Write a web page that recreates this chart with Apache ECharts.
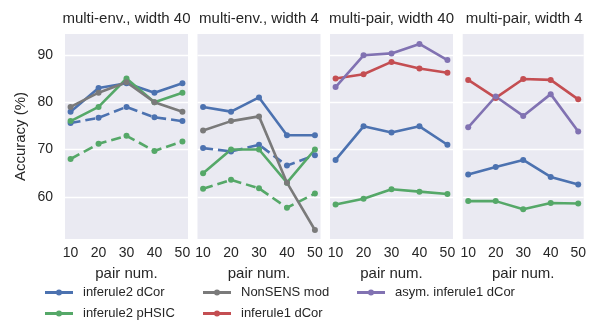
<!DOCTYPE html>
<html>
<head>
<meta charset="utf-8">
<script src="https://cdn.jsdelivr.net/npm/echarts@6/dist/echarts.min.js"></script>
<style>
  html, body { margin: 0; padding: 0; background: #fff; }
  #chart { width: 589px; height: 320px; }
</style>
</head>
<body>
<div id="chart"></div>
<script>
// x values / tick labels
const pairNum = [10, 20, 30, 40, 50];
const yTicks = [60, 70, 80, 90];
const panelTitles = ['multi-env., width 40', 'multi-env., width 4', 'multi-pair, width 40', 'multi-pair, width 4'];

// multi-env., width 40
const env40Dcor = [78, 83, 84, 82, 84];
const env40DcorDash = [75.6, 76.7, 79, 76.8, 76];
const env40Phsic = [76, 79, 85, 80, 82];
const env40PhsicDash = [68, 71.2, 72.9, 69.7, 71.7];
const env40Nonsens = [79, 82, 84.2, 80, 78];

// multi-env., width 4
const env4Dcor = [79, 78, 81, 73, 73];
const env4DcorDash = [70.3, 69.6, 71, 66.6, 68.8];
const env4Phsic = [65, 70, 70, 63, 70];
const env4PhsicDash = [61.7, 63.6, 61.8, 57.7, 60.7];
const env4Nonsens = [74, 76, 77, 63, 53];

// multi-pair, width 40
const pair40Dcor = [67.8, 74.9, 73.6, 74.9, 71];
const pair40Phsic = [58.4, 59.6, 61.6, 61.1, 60.6];
const pair40I1Dcor = [85, 85.9, 88.5, 87.1, 86.2];
const pair40Asym = [83.2, 89.9, 90.3, 92.3, 88.9];

// multi-pair, width 4
const pair4Dcor = [64.7, 66.3, 67.8, 64.2, 62.6];
const pair4Phsic = [59.1, 59.1, 57.4, 58.7, 58.6];
const pair4I1Dcor = [84.7, 80.9, 84.9, 84.7, 80.6];
const pair4Asym = [74.7, 81.2, 77.1, 81.7, 73.8];

const C_BLUE = '#4C72B0', C_GREEN = '#55A868', C_GRAY = '#7a7a7a', C_RED = '#C44E52', C_PURPLE = '#8172B2';
const TXT = '#262626';
const FONT = 'Liberation Sans, Arial, sans-serif';

const chart = echarts.init(document.getElementById('chart'));

const panelLeft = [65, 197.5, 330, 462.7];
const panelW = 123;

function pts(vals) {
  return pairNum.map((x, i) => [x, vals[i]]);
}

function line(name, vals, color, panel, dashed) {
  return {
    name: name,
    type: 'line',
    xAxisIndex: panel,
    yAxisIndex: panel,
    data: pts(vals),
    symbol: 'circle',
    symbolSize: 6,
    showSymbol: true,
    itemStyle: { color: color },
    lineStyle: { color: color, width: 2.6, type: dashed ? [10, 5] : 'solid' },
    emphasis: { disabled: true },
    animation: false
  };
}

const grids = [], xAxes = [], yAxes = [], titles = [];
for (let i = 0; i < 4; i++) {
  grids.push({ left: panelLeft[i], width: panelW, top: 34, height: 205, show: true, backgroundColor: '#EAEAF2', borderWidth: 0 });
  xAxes.push({
    type: 'value', gridIndex: i, min: 8, max: 52,
    name: 'pair num.', nameLocation: 'middle', nameGap: 27,
    nameTextStyle: { color: TXT, fontSize: 15, fontFamily: FONT },
    axisLine: { show: false }, axisTick: { show: false },
    axisLabel: { customValues: pairNum, color: TXT, fontSize: 14, fontFamily: FONT, margin: 7 },
    splitLine: { show: false }
  });
  yAxes.push({
    type: 'value', gridIndex: i, min: 51.1, max: 94.4,
    name: i === 0 ? 'Accuracy (%)' : '', nameLocation: 'middle', nameGap: 37,
    nameTextStyle: { color: TXT, fontSize: 15, fontFamily: FONT },
    axisLine: { show: false },
    axisTick: { show: false, customValues: yTicks },
    axisLabel: { show: i === 0, customValues: yTicks, color: TXT, fontSize: 14, fontFamily: FONT, margin: 12 },
    splitLine: { show: true, customValues: yTicks, lineStyle: { color: '#ffffff', width: 1.3 } }
  });
  titles.push({
    text: panelTitles[i], left: panelLeft[i] + panelW / 2, top: 11, textAlign: 'center', padding: 0,
    textStyle: { color: TXT, fontSize: 15, fontWeight: 'normal', fontFamily: FONT }
  });
}

const series = [
  line('inferule2 dCor', env40Dcor, C_BLUE, 0, false),
  line('inferule2 dCor (alt)', env40DcorDash, C_BLUE, 0, true),
  line('inferule2 pHSIC', env40Phsic, C_GREEN, 0, false),
  line('inferule2 pHSIC (alt)', env40PhsicDash, C_GREEN, 0, true),
  line('NonSENS mod', env40Nonsens, C_GRAY, 0, false),

  line('inferule2 dCor', env4Dcor, C_BLUE, 1, false),
  line('inferule2 dCor (alt)', env4DcorDash, C_BLUE, 1, true),
  line('inferule2 pHSIC', env4Phsic, C_GREEN, 1, false),
  line('inferule2 pHSIC (alt)', env4PhsicDash, C_GREEN, 1, true),
  line('NonSENS mod', env4Nonsens, C_GRAY, 1, false),

  line('inferule2 dCor', pair40Dcor, C_BLUE, 2, false),
  line('inferule2 pHSIC', pair40Phsic, C_GREEN, 2, false),
  line('inferule1 dCor', pair40I1Dcor, C_RED, 2, false),
  line('asym. inferule1 dCor', pair40Asym, C_PURPLE, 2, false),

  line('inferule2 dCor', pair4Dcor, C_BLUE, 3, false),
  line('inferule2 pHSIC', pair4Phsic, C_GREEN, 3, false),
  line('inferule1 dCor', pair4I1Dcor, C_RED, 3, false),
  line('asym. inferule1 dCor', pair4Asym, C_PURPLE, 3, false)
];

// line with a small dot, like the matplotlib legend handle
const LEG_ICON = 'path://M0,1.5 L28,1.5 L28,4.5 L0,4.5 Z M14,0 A3,3 0 1,1 14,6 A3,3 0 1,1 14,0 Z';

function legendItem(name, left, top) {
  return {
    data: [name], left: left, top: top, padding: 0,
    icon: LEG_ICON, itemWidth: 28, itemHeight: 6, selectedMode: false,
    textStyle: { color: TXT, fontSize: 13, fontFamily: FONT, padding: [0, 0, 0, 5] }
  };
}

chart.setOption({
  animation: false,
  title: titles,
  grid: grids,
  xAxis: xAxes,
  yAxis: yAxes,
  legend: [
    legendItem('inferule2 dCor', 45, 286),
    legendItem('inferule2 pHSIC', 45, 307),
    legendItem('NonSENS mod', 203, 286),
    legendItem('inferule1 dCor', 203, 307),
    legendItem('asym. inferule1 dCor', 357, 286)
  ],
  series: series
});
</script>
</body>
</html>
